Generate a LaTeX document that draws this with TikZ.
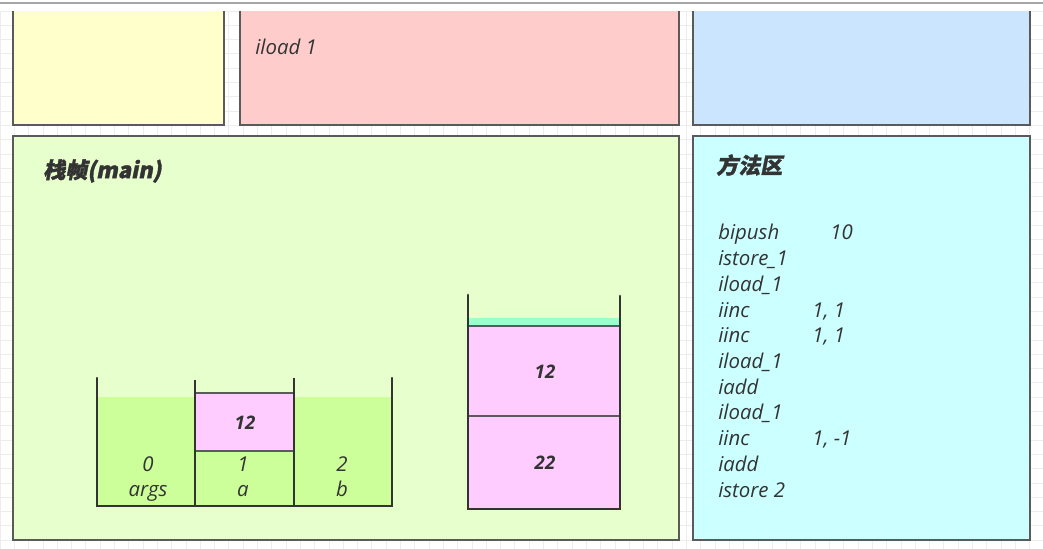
\documentclass[tikz,border=0pt]{standalone}
\usepackage{fontspec}
\setmainfont{Open Sans}
\newfontfamily\cjk[FakeSlant=0.2,FakeBold=1.5]{Noto Sans CJK SC}
\definecolor{gridcol}{HTML}{EDEDED}
\definecolor{topline}{HTML}{A6A6A6}
\definecolor{boxline}{HTML}{5A5A5A}
\definecolor{txtcol}{HTML}{333333}
\definecolor{cyellow}{HTML}{FFFFCC}
\definecolor{cpink}{HTML}{FFCCCC}
\definecolor{cblue}{HTML}{CCE5FF}
\definecolor{cgreen}{HTML}{E6FFCC}
\definecolor{ccyan}{HTML}{CCFFFF}
\definecolor{slotgreen}{HTML}{CCFF99}
\definecolor{slotpink}{HTML}{FFCCFF}
\definecolor{teal}{HTML}{99FFCC}
\definecolor{wall}{HTML}{333333}
\begin{document}
\begin{tikzpicture}[x=0.75pt,y=-0.75pt,
  box/.style={draw=boxline,line width=1pt},
  txt/.style={font=\fontsize{15.3}{18}\selectfont\itshape,text=txtcol,inner sep=0pt},
  btxt/.style={font=\fontsize{14}{17}\selectfont\itshape\bfseries,text=txtcol,inner sep=0pt},
  ttl/.style={font=\fontsize{16.5}{19}\selectfont\cjk,text=txtcol,inner sep=0pt,anchor=west},
  wallline/.style={draw=wall,line width=1.8pt},
  sep/.style={draw=boxline,line width=0.8pt}]
\useasboundingbox (0,0) rectangle (1043,549);
\fill[white] (0,0) rectangle (1043,549);
% grid
\foreach \i in {0,...,73} \draw[gridcol,line width=0.6pt] ({\i*14.3},11) -- ({\i*14.3},549);
\foreach \j in {0,...,38} \draw[gridcol,line width=0.6pt] (0,{11+\j*14.3}) -- (1043,{11+\j*14.3});
\draw[topline,line width=1.2pt] (0,3) -- (1043,3);
% top boxes (cut at top)
\fill[cyellow] (13,11) rectangle (224,125);
\draw[box] (13,11) -- (13,125) -- (224,125) -- (224,11);
\fill[cpink] (240,11) rectangle (679,125);
\draw[box] (240,11) -- (240,125) -- (679,125) -- (679,11);
\fill[cblue] (693,11) rectangle (1030,125);
\draw[box] (693,11) -- (693,125) -- (1030,125) -- (1030,11);
\node[txt,anchor=base west] (iload) at (255,55) {iload 1};
% lower boxes
\draw[box,fill=cgreen] (13,136) rectangle (679,540);
\draw[box,fill=ccyan] (693,136) rectangle (1030,540);
\node[ttl] (frame) at (43,171) {\bfseries 栈帧(main)};
\node[ttl] (method) at (716,165) {\bfseries 方法区};
% local variable table
\fill[slotgreen] (97,397) rectangle (195,506);
\fill[slotgreen] (294,397) rectangle (392,506);
\fill[slotgreen] (195,451) rectangle (294,506);
\draw[sep,fill=slotpink] (195,393) rectangle (294,451);
\node[btxt] (v12) at (245,423) {12};
\draw[wallline,line cap=round] (97,378) -- (97,506) -- (392,506) -- (392,378);
\draw[wallline] (195,380) -- (195,506);
\draw[wallline] (294,378) -- (294,506);
\foreach \x/\n/\m [count=\k] in {148/0/args,243/1/a,342/2/b}{
  \node[txt,anchor=base] (idx\k) at (\x,471) {\n};
  \node[txt,anchor=base] (nm\k) at (\x,496) {\m};
}
% operand stack
\fill[teal] (468,318) rectangle (620,326);
\draw[sep,fill=slotpink] (468,326) rectangle (620,509);
\draw[sep] (468,416) -- (620,416);
\draw[draw=wall,line width=2pt,line cap=round] (468,295) -- (468,509) -- (620,509) -- (620,296);
\node[btxt] (s12) at (545,372) {12};
\node[btxt] (s22) at (545,463) {22};
% method area listing
\foreach \a/\b/\c [count=\k] in {bipush/10/830,istore\_1//812,iload\_1//812,iinc/{1, 1}/812,iinc/{1, 1}/812,iload\_1//812,iadd//812,iload\_1//812,iinc/{1, -1}/812,iadd//812,istore 2//812}{
  \node[txt,anchor=base west] (op\k) at (718,{240+(\k-1)*25.7}) {\a};
  \node[txt,anchor=base west] (arg\k) at (\c,{240+(\k-1)*25.7}) {\b};
}
\end{tikzpicture}
\end{document}
